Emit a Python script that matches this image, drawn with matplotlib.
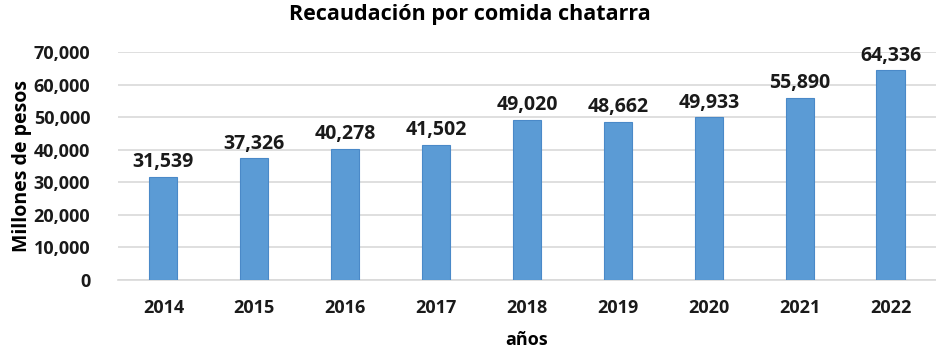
import matplotlib.pyplot as plt
from matplotlib.ticker import FuncFormatter

years = ['2014', '2015', '2016', '2017', '2018', '2019', '2020', '2021', '2022']
values = [31539, 37326, 40278, 41502, 49020, 48662, 49933, 55890, 64336]

plt.rcParams['font.family'] = ['Open Sans', 'DejaVu Sans']
plt.rcParams['font.weight'] = 'bold'

fig = plt.figure(figsize=(9.36, 3.54), dpi=100)
ax = fig.add_axes([0.126, 0.209, 0.874, 0.644])

x = range(len(years))
ax.bar(x, values, width=0.31, color='#5B9BD5', edgecolor='#4A89C8', linewidth=0.8, zorder=3)

# value labels above bars
for xi, v in zip(x, values):
    ax.text(xi, v + 1500, f'{v:,}', ha='center', va='bottom', fontsize=14, fontweight='bold', color='#1a1a1a')

ax.set_xlim(-0.5, len(years) - 0.5)
ax.set_ylim(0, 70000)
ax.set_yticks(range(0, 70001, 10000))
ax.yaxis.set_major_formatter(FuncFormatter(lambda v, p: f'{int(v):,}'))
ax.set_xticks(list(x))
ax.set_xticklabels(years)
ax.tick_params(axis='both', length=0, labelsize=13, colors='#1a1a1a')
ax.tick_params(axis='x', pad=14)
ax.tick_params(axis='y', pad=20)

ax.grid(axis='y', color='#d9d9d9', linewidth=1.2, zorder=0)
for s in ['top', 'right', 'left']:
    ax.spines[s].set_visible(False)
ax.spines['bottom'].set_color('#d9d9d9')
ax.spines['bottom'].set_linewidth(1.2)

ax.set_ylabel('Millones de pesos', fontsize=14, fontweight='bold', labelpad=1)
ax.set_xlabel('años', fontsize=13, fontweight='bold', labelpad=10)
fig.suptitle('Recaudación por comida chatarra', fontsize=15.5, fontweight='bold', x=0.502, y=0.99)

fig.savefig('out.png', dpi=100)
